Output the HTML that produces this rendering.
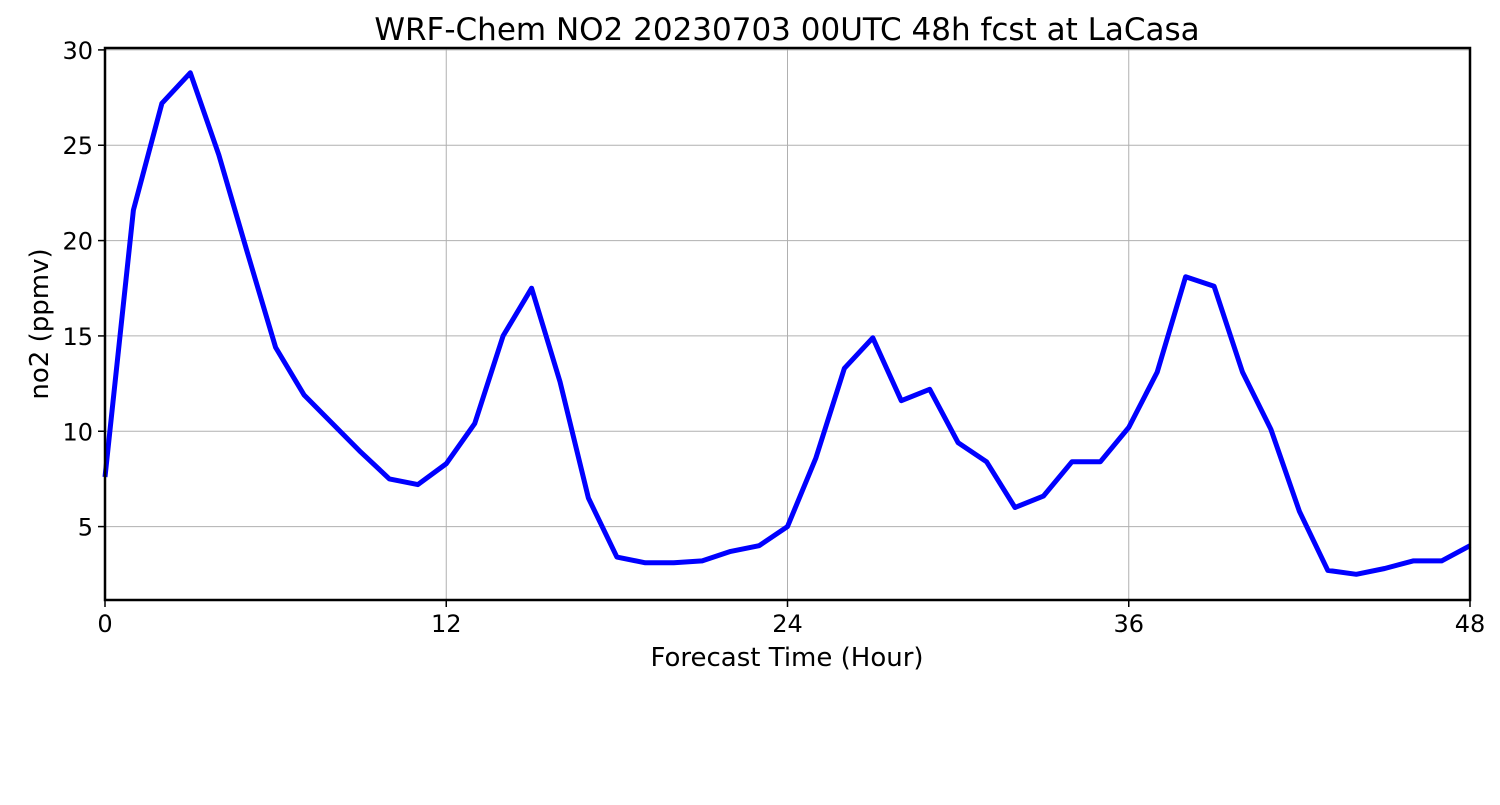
<!DOCTYPE html>
<html><head><meta charset="utf-8"><style>
body{margin:0;background:#fff;}
svg text{font-family:"DejaVu Sans","Liberation Sans",sans-serif;fill:#000;}
</style></head><body>
<svg width="1500" height="800" xmlns="http://www.w3.org/2000/svg">
<text x="787" y="40" font-size="31" text-anchor="middle">WRF-Chem NO2  20230703 00UTC 48h fcst at LaCasa</text>
<g id="grid"></g>
<g id="axes"></g>
<path id="line" fill="none" stroke="#0000ff" stroke-width="5" stroke-linejoin="round"/>
<rect x="105" y="48" width="1365" height="552" fill="none" stroke="#000" stroke-width="2.5"/>
<text x="787" y="666" font-size="26" text-anchor="middle">Forecast Time (Hour)</text>
<text transform="translate(48,324) rotate(-90)" font-size="26" text-anchor="middle">no2  (ppmv)</text>
</svg>
<script>
const hours=[0,1,2,3,4,5,6,7,8,9,10,11,12,13,14,15,16,17,18,19,20,21,22,23,24,25,26,27,28,29,30,31,32,33,34,35,36,37,38,39,40,41,42,43,44,45,46,47,48];
const no2=[7.6,21.6,27.2,28.8,24.5,19.4,14.4,11.9,10.4,8.9,7.5,7.2,8.3,10.4,15.0,17.5,12.6,6.5,3.4,3.1,3.1,3.2,3.7,4.0,5.0,8.6,13.3,14.9,11.6,12.2,9.4,8.4,6.0,6.6,8.4,8.4,10.2,13.1,18.1,17.6,13.1,10.1,5.8,2.7,2.5,2.8,3.2,3.2,4.0];
const xTicks=[0,12,24,36,48];
const yTicks=[5,10,15,20,25,30];
const X0=105,X1=1470,Y0=600,Y1=48,xmin=0,xmax=48,ymin=1.15,ymax=30.1;
const sx=v=>X0+(v-xmin)/(xmax-xmin)*(X1-X0);
const sy=v=>Y0-(v-ymin)/(ymax-ymin)*(Y0-Y1);
const NS="http://www.w3.org/2000/svg";
const grid=document.getElementById('grid'),axes=document.getElementById('axes');
function mk(tag,attrs,parent){const e=document.createElementNS(NS,tag);for(const k in attrs)e.setAttribute(k,attrs[k]);parent.appendChild(e);return e;}
xTicks.forEach(t=>{
 const gl=mk('line',{x1:sx(t),x2:sx(t),y1:Y1,y2:Y0,stroke:'#b0b0b0','stroke-width':1},grid);
 
 
 const tk=mk('line',{x1:sx(t),x2:sx(t),y1:Y0,y2:Y0+7,stroke:'#000','stroke-width':1.5},axes);
 
 
 const tx=mk('text',{x:sx(t),y:Y0+32,'font-size':24,'text-anchor':'middle'},axes);
 tx.textContent=t;
 
 
});
yTicks.forEach(t=>{
 const gl=mk('line',{x1:X0,x2:X1,y1:sy(t),y2:sy(t),stroke:'#b0b0b0','stroke-width':1},grid);
 
 
 const tk=mk('line',{x1:X0-7,x2:X0,y1:sy(t),y2:sy(t),stroke:'#000','stroke-width':1.5},axes);
 
 
 const tx=mk('text',{x:X0-12,y:sy(t)+9,'font-size':24,'text-anchor':'end'},axes);
 tx.textContent=t;
 
 
});
document.getElementById('line').setAttribute('d',hours.map((h,i)=>(i?'L':'M')+sx(h).toFixed(1)+','+sy(no2[i]).toFixed(1)).join(''));
</script>
</body></html>
